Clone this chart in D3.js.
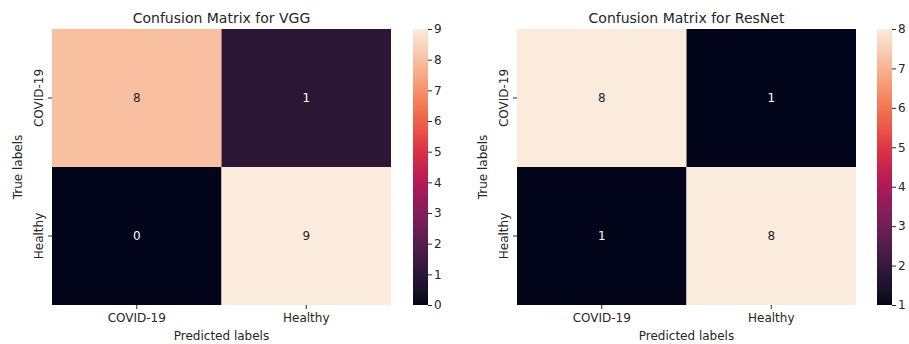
<!DOCTYPE html>
<html lang="en">
<head>
  <meta charset="UTF-8">
  <title>Confusion Matrices</title>
  <script src="https://d3js.org/d3.v7.min.js"></script>
  <style>
    body { margin: 0; background: #fff; }
    text { font-family: "DejaVu Sans", sans-serif; fill: #262626; }
  </style>
</head>
<body>
  <script>
    const classes = ["COVID-19", "Healthy"];
    const vggMatrix = [[8, 1], [0, 9]];
    const resnetMatrix = [[8, 1], [1, 8]];
    const panelTitles = ["Confusion Matrix for VGG", "Confusion Matrix for ResNet"];
    const xLabel = "Predicted labels";
    const yLabel = "True labels";

    // seaborn "rocket" colormap, approximate stops
    const rocketStops = [
      [0, "#03051a"], [1/7, "#35193e"], [2/7, "#701f57"], [3/7, "#ad1759"],
      [4/7, "#e13342"], [5/7, "#f37651"], [6/7, "#f6b48f"], [1, "#faebdd"]
    ];
    const rocket = d3.scaleLinear()
      .domain(rocketStops.map(d => d[0]))
      .range(rocketStops.map(d => d[1]))
      .interpolate(d3.interpolateLab);

    const width = 909, height = 344;
    const svg = d3.select("body").append("svg")
      .attr("width", width)
      .attr("height", height);

    const defs = svg.append("defs");
    const grad = defs.append("linearGradient")
      .attr("id", "rocketGrad")
      .attr("x1", 0).attr("y1", 1).attr("x2", 0).attr("y2", 0);
    d3.range(0, 1.0001, 0.05).forEach(t => {
      grad.append("stop").attr("offset", t).attr("stop-color", rocket(t));
    });

    const panels = [
      { matrix: vggMatrix, title: panelTitles[0], x0: 52, x1: 391, cb: 413 },
      { matrix: resnetMatrix, title: panelTitles[1], x0: 517, x1: 856, cb: 877 }
    ];
    const plotTop = 29, plotBottom = 305, cbWidth = 15;

    panels.forEach(p => {
      const g = svg.append("g");
      const values = p.matrix.flat();
      const [vmin, vmax] = d3.extent(values);
      const color = v => rocket((v - vmin) / (vmax - vmin));

      const x = d3.scaleBand().domain(classes).range([p.x0, p.x1]);
      const y = d3.scaleBand().domain(classes).range([plotTop, plotBottom]);

      const cells = [];
      p.matrix.forEach((row, i) => row.forEach((v, j) => {
        cells.push({ t: classes[i], pr: classes[j], v });
      }));

      g.selectAll("rect.cell")
        .data(cells)
        .join("rect")
        .attr("class", "cell")
        .attr("x", d => x(d.pr))
        .attr("y", d => y(d.t))
        .attr("width", x.bandwidth())
        .attr("height", y.bandwidth())
        .attr("fill", d => color(d.v));

      g.selectAll("text.annot")
        .data(cells)
        .join("text")
        .attr("class", "annot")
        .attr("x", d => x(d.pr) + x.bandwidth() / 2)
        .attr("y", d => y(d.t) + y.bandwidth() / 2)
        .attr("text-anchor", "middle")
        .attr("dominant-baseline", "central")
        .style("font-size", "12px")
        .style("fill", d => (d.v - vmin) / (vmax - vmin) > 0.5 ? "#262626" : "#ffffff")
        .text(d => d.v);

      // axes
      const xAxis = g.append("g")
        .attr("transform", `translate(0,${plotBottom})`)
        .call(d3.axisBottom(x).tickSize(4).tickPadding(4));
      const yAxis = g.append("g")
        .attr("transform", `translate(${p.x0},0)`)
        .call(d3.axisLeft(y).tickSize(4).tickPadding(4));
      [xAxis, yAxis].forEach(a => {
        a.select(".domain").remove();
        a.selectAll("line").attr("stroke", "#262626");
        a.selectAll("text").style("font-size", "12px").attr("fill", "#262626");
      });
      yAxis.selectAll(".tick text")
        .attr("transform", "rotate(-90)")
        .attr("x", 0).attr("dy", 0)
        .attr("y", -9)
        .attr("text-anchor", "middle");

      const cx = (p.x0 + p.x1) / 2;
      g.append("text")
        .attr("x", cx).attr("y", 23)
        .attr("text-anchor", "middle")
        .style("font-size", "14px")
        .text(p.title);
      g.append("text")
        .attr("x", cx).attr("y", 340)
        .attr("text-anchor", "middle")
        .style("font-size", "12px")
        .text(xLabel);
      g.append("text")
        .attr("transform", `translate(${p.x0 - 30},${(plotTop + plotBottom) / 2}) rotate(-90)`)
        .attr("text-anchor", "middle")
        .style("font-size", "12px")
        .text(yLabel);

      // colorbar
      g.append("rect")
        .attr("x", p.cb).attr("y", plotTop)
        .attr("width", cbWidth).attr("height", plotBottom - plotTop)
        .attr("fill", "url(#rocketGrad)");
      const cScale = d3.scaleLinear().domain([vmin, vmax]).range([plotBottom, plotTop]);
      const cAxis = g.append("g")
        .attr("transform", `translate(${p.cb + cbWidth},0)`)
        .call(d3.axisRight(cScale).ticks(vmax - vmin).tickFormat(d3.format("d")).tickSize(4).tickPadding(2));
      cAxis.select(".domain").remove();
      cAxis.selectAll("line").attr("stroke", "#262626");
      cAxis.selectAll("text").style("font-size", "12px").attr("fill", "#262626");
    });
  </script>
</body>
</html>
